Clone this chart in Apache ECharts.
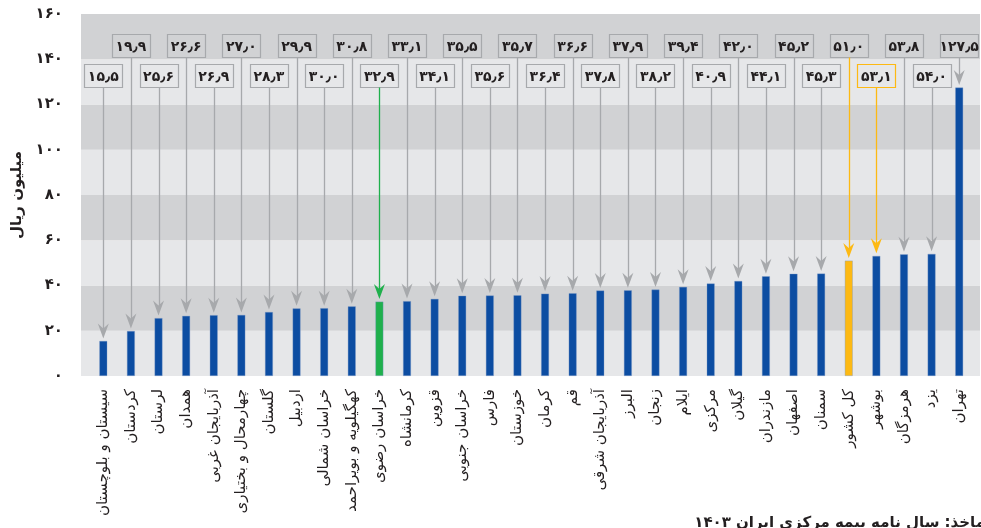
<!DOCTYPE html>
<html><head><meta charset="utf-8">
<script src="https://cdn.jsdelivr.net/npm/echarts@6/dist/echarts.min.js"></script>
<style>html,body{margin:0;padding:0;background:#fff}#c{width:981px;height:528px}</style>
</head><body><div id="c"></div>
<script>
const categories = ['سیستان و بلوچستان','کردستان','لرستان','همدان','آذربایجان غربی','چهارمحال و بختیاری','گلستان','اردبیل','خراسان شمالی','کهگیلویه و بویراحمد','خراسان رضوی','کرمانشاه','قزوین','خراسان جنوبی','فارس','خوزستان','کرمان','قم','آذربایجان شرقی','البرز','زنجان','ایلام','مرکزی','گیلان','مازندران','اصفهان','سمنان','کل کشور','بوشهر','هرمزگان','یزد','تهران'];
const values = [15.5,19.9,25.6,26.6,26.9,27.0,28.3,29.9,30.0,30.8,32.9,33.1,34.1,35.5,35.6,35.7,36.4,36.6,37.8,37.9,38.2,39.4,40.9,42.0,44.1,45.2,45.3,51.0,53.1,53.8,54.0,127.5];
const yMin = 0, yMax = 160, yStep = 20;
const yAxisName = 'میلیون ریال';
const sourceNote = 'ماخذ: سال نامه بیمه مرکزی ایران ۱۴۰۳';

const FONT = '"DejaVu Sans", sans-serif';
const BLUE = '#0c4da2', GREEN = '#1fb04c', YELLOW = '#fdb913', GREY = '#a7a9ac';
function fa(s){ return String(s).replace(/[0-9]/g, d => '۰۱۲۳۴۵۶۷۸۹'[d]).replace('.', '٫'); }
function barColor(name){ return name === 'خراسان رضوی' ? GREEN : (name === 'کل کشور' ? YELLOW : BLUE); }
function arrowColor(name){ return name === 'خراسان رضوی' ? GREEN : ((name === 'کل کشور' || name === 'بوشهر') ? YELLOW : GREY); }
function boxColor(name){ return name === 'بوشهر' ? YELLOW : GREY; }

const chart = echarts.init(document.getElementById('c'), null, {renderer:'canvas'});
chart.setOption({
  animation: false,
  backgroundColor: '#fff',
  textStyle: {fontFamily: FONT},
  grid: [
    {left: 81, right: 1, top: 14, bottom: 152},
    {left: 89.5, right: 8, top: 14, bottom: 152}
  ],
  xAxis: [
    {gridIndex: 0, type: 'value', show: false, min: 0, max: 1},
    {gridIndex: 1, type: 'category', data: categories,
     axisLine: {show: false}, axisTick: {show: false},
     axisLabel: {rotate: 90, interval: 0, margin: 13, fontSize: 15, color: '#231f20', fontFamily: FONT}}
  ],
  yAxis: [
    {gridIndex: 0, type: 'value', min: yMin, max: yMax, interval: yStep,
     name: yAxisName, nameLocation: 'middle', nameGap: 55, nameRotate: 90,
     nameTextStyle: {fontSize: 15, fontWeight: 'bold', color: '#231f20', fontFamily: FONT},
     axisLine: {show: false}, axisTick: {show: false},
     axisLabel: {margin: 18, fontSize: 15, fontWeight: 'bold', color: '#231f20', formatter: v => fa(v), fontFamily: FONT},
     splitLine: {show: false},
     splitArea: {show: true, areaStyle: {color: ['#e6e7e9', '#d1d2d4']}}},
    {gridIndex: 1, type: 'value', min: yMin, max: yMax, interval: yStep, show: false, splitLine: {show: false}}
  ],
  series: [
    {type: 'bar', xAxisIndex: 1, yAxisIndex: 1, barWidth: 8,
     data: values.map((v, i) => ({value: v, itemStyle: {color: barColor(categories[i]), borderColor: 'rgba(120,150,200,0.6)', borderWidth: 0.6}}))},
    {type: 'custom', xAxisIndex: 1, yAxisIndex: 1, clip: false, z: 5,
     data: values.map((v, i) => [i, v]),
     renderItem(params, api){
       const i = api.value(0), v = api.value(1);
       const name = categories[i];
       const top = api.coord([i, v]);
       const cs = params.coordSys;
       const lower = i % 2 === 0;
       const boxW = 38, boxH = 23;
       const boxTop = Math.round(cs.y + (lower ? 49.5 : 19.5)) + 0.5;
       const cx = top[0];
       const lx = Math.round(cx) + 0.5;
       const tipY = top[1] - 2.5;
       const lc = arrowColor(name);
       return {type: 'group', children: [
         {type: 'rect', shape: {x: Math.round(cx - boxW / 2) + 0.5, y: boxTop, width: boxW, height: boxH},
          style: {fill: 'none', stroke: boxColor(name), lineWidth: 1.2}},
         {type: 'text', style: {text: fa(v.toFixed(1)), x: cx, y: boxTop + boxH / 2 + 1, align: 'center', verticalAlign: 'middle',
          fontSize: 14, fontWeight: 'bold', fontFamily: FONT, fill: '#231f20'}},
         {type: 'line', shape: {x1: lx, y1: boxTop + boxH, x2: lx, y2: tipY - 9}, style: {stroke: lc, lineWidth: 1.3}},
         {type: 'polygon', shape: {points: [[cx, tipY], [cx - 5.5, tipY - 15], [cx, tipY - 10], [cx + 5.5, tipY - 15]]}, style: {fill: lc}}
       ]};
     }}
  ],
  graphic: [
    {type: 'text', right: -4, bottom: -3, style: {text: sourceNote, fontSize: 15, fontWeight: 'bold', fontFamily: FONT, fill: '#231f20'}}
  ]
});
</script></body></html>
